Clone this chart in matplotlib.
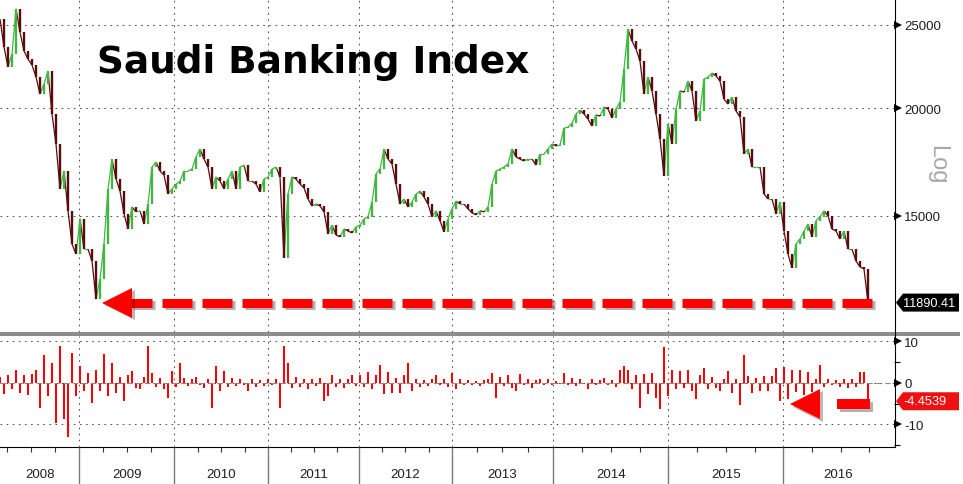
import numpy as np
import matplotlib
matplotlib.use("Agg")
import matplotlib.pyplot as plt
import matplotlib.patheffects as pe
from matplotlib.patches import Polygon
from matplotlib.lines import Line2D
from matplotlib.collections import LineCollection
from matplotlib.ticker import FixedLocator, NullLocator
from matplotlib.transforms import IdentityTransform, blended_transform_factory, offset_copy

# -------------------------------------------------
# 1) Data (one value every few sessions)
# -------------------------------------------------
closes = [
    25400, 23570, 22340, 23130, 26100, 24530, 23320, 22820, 22460, 21750,
    20780, 21340, 22100, 19700, 18180, 16120, 16910, 15200, 13910, 13540,
    14880, 13720, 13720, 13290, 12000, 12660, 13910, 16120, 17460, 16550,
    16030, 15080, 14480, 15360, 15160, 15200, 14670, 15480, 17090, 17320,
    16910, 16730, 15900, 16120, 16330, 16460, 16910, 16910, 17000, 17560,
    17940, 17460, 17090, 16120, 16640, 16460, 16120, 16550, 16910, 16120,
    17090, 17180, 16460, 16460, 16330, 15990, 16550, 16640, 17000, 17090,
    16640, 13400, 15900, 16640, 16550, 16330, 16160, 15690, 15400, 15480,
    15400, 15160, 14290, 14630, 14250, 14180, 14480, 14400, 14330, 14560,
    14630, 14880, 14960, 15560, 16780, 17000, 17940, 17460, 17230, 16330,
    15480, 15690, 15360, 15560, 15900, 16030, 15770, 15480, 14960, 15200,
    14800, 14370, 14880, 15280, 15600, 15480, 15480, 15280, 15120, 15040,
    15200, 15160, 15360, 16330, 16910, 17000, 17090, 17230, 17940, 17560,
    17460, 17370, 17460, 17460, 17180, 17700, 17700, 17940, 18180, 18080,
    18130, 18970, 19020, 19220, 19700, 19910, 19700, 19430, 19070, 19650,
    19590, 20070, 19960, 19490, 19960, 20340, 22220, 24700, 23950, 23440,
    22700, 20780, 21750, 20950, 19700, 18420, 16700, 19170, 18180, 19960,
    20950, 20890, 21510, 20950, 19330, 19860, 21630, 21750, 21980, 21810,
    21510, 20500, 20230, 20610, 19860, 19540, 17700, 17940, 17090, 17090,
    17090, 15900, 15690, 15690, 15080, 15560, 14400, 13540, 13050, 13910,
    14100, 14400, 14670, 14180, 14800, 14960, 15200, 15000, 14480, 14400,
    14100, 14400, 13720, 13720, 13290, 13080, 13010, 11890.41,
]

pct_chg = [
    1.5, -2.8, 2.0, -1.5, 3.2, -2.4, 1.8, -3.0, 2.2, 3.0,
    -6.0, 6.8, -3.2, 4.8, -9.6, 9.0, -8.8, -13.2, 7.2, -3.2,
    4.0, -2.0, 2.4, -4.8, 3.2, -2.0, 7.0, -3.2, 4.8, -2.4,
    1.5, -4.4, 1.8, 2.8, -1.2, -1.6, 1.4, 8.8, 2.4, -1.0,
    1.2, -1.5, -3.6, 2.8, -1.0, 4.8, 1.2, -0.8, 1.0, 1.5,
    -0.6, -1.2, 0.8, -6.0, 4.0, -2.0, 2.8, -1.0, 1.2, -0.8,
    1.0, -0.5, -2.0, 0.8, -1.0, 0.6, -0.8, 0.9, -0.6, 1.0,
    -6.2, 8.8, 4.8, -1.2, 1.5, -1.0, 0.8, -1.5, 1.0, -0.8,
    1.2, -4.4, -3.2, 2.0, -1.0, 0.8, -1.2, 1.0, 2.0, -0.8,
    2.0, -1.0, 2.6, -1.5, 1.8, 4.4, -2.6, 2.6, -2.4, 1.2,
    -2.4, 2.0, 4.8, -2.0, 0.8, -1.0, 0.6, -0.8, 1.0, 2.0,
    -0.6, 0.8, -1.0, 2.4, -1.6, 0.8, -0.5, 0.7, -0.6, 0.5,
    -0.8, 0.6, 1.0, 2.4, -3.6, 1.4, -0.8, 1.8, -1.2, -2.0,
    2.2, -0.6, 0.8, -1.2, 0.6, 1.0, -0.5, 0.8, -0.6, 0.5,
    -0.4, 2.4, -0.6, 1.2, -0.8, 1.0, -0.4, -1.6, 0.8, -0.6,
    0.7, 1.2, -0.5, 0.6, -1.0, 3.0, 4.0, 3.2, -1.6, 1.8,
    -6.0, 2.2, -2.8, 2.4, -3.6, -6.4, 8.6, -3.2, 3.2, -1.5,
    2.8, -1.2, 3.2, -2.0, -3.8, 2.0, 3.6, -1.5, 1.5, -1.2,
    -2.0, 1.0, 2.8, -2.4, 1.0, -5.4, 6.6, 1.6, -2.4, 1.2,
    -2.0, 1.6, -2.0, 1.6, 3.6, -4.4, 3.8, -4.0, 3.0, -2.2,
    3.0, -3.0, 2.6, -2.3, 1.0, 4.2, -1.0, 0.8, -0.6, 0.7,
    -1.0, 0.9, -1.2, 0.8, -1.0, 2.6, 2.7, -4.4539,
]

year_labels = ["2008", "2009", "2010", "2011", "2012", "2013", "2014", "2015", "2016"]
# position (in bar slots) where each year starts, last one = start of 2017
year_start_idx = [-4.2, 19.8, 43.6, 67.1, 89.8, 112.9, 138.3, 167.1, 195.8, 224.5]

price_ticks = [15000, 20000, 25000]
chg_ticks = [10, 0, -10]

# -------------------------------------------------
# 2) Figure layout (pixel based)
# -------------------------------------------------
plt.rcParams["font.family"] = ["Liberation Sans", "DejaVu Sans"]
plt.rcParams["lines.scale_dashes"] = False

W, H = 963, 485
fig = plt.figure(figsize=(W / 100, H / 100), dpi=100)
fig.patch.set_facecolor("white")


def px_box(left, top, right, bottom):
    return [left / W, 1 - bottom / H, (right - left) / W, (bottom - top) / H]


ax = fig.add_axes(px_box(0, 0, 894, 333))
axb = fig.add_axes(px_box(0, 337, 894, 448))
axd = fig.add_axes(px_box(0, 448, 894, 485))

XMAX = 223.5
GREEN = "#44b543"
DARK = "#580c0c"
RED = "#ff0000"
GRID_LS = (0, (1.2, 3.2))

idx = np.arange(len(closes))
c = np.array(closes, dtype=float)
o = np.r_[c[0], c[:-1]]
up = c >= o
bounds_in = [b for b in year_start_idx if 0 < b < XMAX]

# -------------------------------------------------
# 3) Price panel (log)
# -------------------------------------------------
ax.set_yscale("log")
ax.set_xlim(0, XMAX)
ax.set_ylim(10990, 26800)

# thin links between consecutive closes, then the up/down bodies on top
segs = [[(i - 1, o[i]), (i, c[i])] for i in idx[1:]]
seg_cols = [GREEN if up[i] else DARK for i in idx[1:]]
ax.add_collection(LineCollection(segs, colors=seg_cols, lw=0.9, zorder=2))
ax.vlines(idx[up], o[up], c[up], color=GREEN, lw=1.7, zorder=3)
ax.vlines(idx[~up], o[~up], c[~up], color=DARK, lw=1.7, zorder=3)

ax.set_yticks(price_ticks)
ax.set_yticklabels([str(t) for t in price_ticks])
ax.yaxis.set_minor_locator(NullLocator())
ax.set_xticks(bounds_in)
ax.tick_params(axis="x", length=0, labelbottom=False)
ax.tick_params(axis="y", which="both", left=False, right=False, labelleft=False,
               labelright=True, length=0, pad=7.2, labelsize=9.5, labelcolor="#1e1e1e")
ax.grid(True, color="#555555", ls=GRID_LS, lw=0.75)
ax.set_axisbelow(True)
for s in ax.spines.values():
    s.set_visible(False)

tri = offset_copy(blended_transform_factory(ax.transAxes, ax.transData), fig=fig, x=4, units="dots")
ax.plot([1] * len(price_ticks), price_ticks, ls="none", marker=">", ms=5.5, mew=0,
        color="k", transform=tri, clip_on=False)

# dashed arrow from the latest close back to the 2009 low
y_arrow = closes[-1]
tip = int(np.argmin(c[:60])) + 1.5
ax.plot([len(c), tip + 7], [y_arrow, y_arrow], color=RED, lw=6.5, ls=(0, (21.6, 7.2)),
        path_effects=[pe.SimpleLineShadow(offset=(2, -2), alpha=0.3), pe.Normal()], zorder=4)
ax.plot([tip + 3.75], [y_arrow], marker="<", ms=21.6, mew=0, color=RED,
        path_effects=[pe.SimplePatchShadow(offset=(2, -2), alpha=0.3), pe.Normal()], zorder=4)

# -------------------------------------------------
# 4) Change panel
# -------------------------------------------------
axb.set_xlim(0, XMAX)
axb.set_ylim(-15.5, 11.3)
axb.bar(idx, pct_chg, width=0.72, color=RED, lw=0, zorder=2)
axb.axhline(0, color="#8a8a8a", lw=0.8, ls=(0, (4, 2.5)), zorder=3)

axb.set_yticks(chg_ticks)
axb.set_yticklabels([str(t) for t in chg_ticks])
axb.yaxis.set_minor_locator(FixedLocator([-15, -5, 5]))
axb.set_xticks(bounds_in)
axb.tick_params(axis="x", length=0, labelbottom=False)
axb.tick_params(axis="y", which="major", left=False, right=False, labelleft=False,
                labelright=True, length=0, pad=7.2, labelsize=9.5, labelcolor="#1e1e1e")
axb.tick_params(axis="y", which="minor", left=False, right=True, length=4, width=0.8,
                color="k", direction="out")
axb.grid(True, which="major", color="#555555", ls=GRID_LS, lw=0.75)
axb.set_axisbelow(True)
for name, s in axb.spines.items():
    s.set_visible(name == "bottom")
axb.spines["bottom"].set_color("k")
axb.spines["bottom"].set_linewidth(0.8)

trib = offset_copy(blended_transform_factory(axb.transAxes, axb.transData), fig=fig, x=4, units="dots")
axb.plot([1] * len(chg_ticks), chg_ticks, ls="none", marker=">", ms=5.5, mew=0,
         color="k", transform=trib, clip_on=False)

last = len(pct_chg) - 1
yb = pct_chg[-1] - 0.65
axb.plot([last + 0.5, last - 7.75], [yb, yb], color=RED, lw=7.2, solid_capstyle="butt",
         path_effects=[pe.SimpleLineShadow(offset=(2, -2), alpha=0.3), pe.Normal()], zorder=4)
axb.plot([last - 19.5 + 3.8], [yb], marker="<", ms=22, mew=0, color=RED,
         path_effects=[pe.SimplePatchShadow(offset=(2, -2), alpha=0.3), pe.Normal()], zorder=4)

# -------------------------------------------------
# 5) Date strip
# -------------------------------------------------
axd.set_xlim(0, XMAX)
axd.set_ylim(0, 1)
axd.axis("off")
axd.vlines(bounds_in, 0, 1, color="#7a7a7a", lw=1.0)
quarters = []
for k, lab in enumerate(year_labels):
    a, b = year_start_idx[k], year_start_idx[k + 1]
    quarters += [a + (b - a) * q / 4 for q in (1, 2, 3)]
    axd.text((max(a, 0) + min(b, XMAX)) / 2, 0.28, lab, ha="center", va="center",
             fontsize=9.5, color="#1e1e1e")
axd.vlines([q for q in quarters if 0 < q < XMAX], 0.87, 1, color="#333333", lw=0.8)

# -------------------------------------------------
# 6) Frame pieces, last-value tags, labels
# -------------------------------------------------
fig.add_artist(Line2D([0, 958], [H - 335, H - 335], transform=IdentityTransform(),
                      color="#8c8c8c", lw=2.9))
fig.add_artist(Line2D([894.5, 894.5], [H - 448, H], transform=IdentityTransform(),
                      color="k", lw=0.8))


def tag(axis, value, text, color):
    yd = axis.transData.transform((0, value))[1]
    poly = Polygon([(896, yd), (903, yd + 9), (959, yd + 9), (959, yd - 9), (903, yd - 9)],
                   closed=True, transform=IdentityTransform(), fc=color, ec="none")
    fig.add_artist(poly)
    fig.text(903.5, yd, text, transform=IdentityTransform(), ha="left", va="center",
             color="white", fontsize=9.2)


tag(ax, closes[-1], f"{closes[-1]:.2f}", "black")
tag(axb, pct_chg[-1], f"{pct_chg[-1]:.4f}", "#ee1111")

fig.text(937.5 / W, 1 - 165 / H, "Log", rotation=270, ha="center", va="center",
         fontsize=17, color="#a8a8a8")
fig.text(97 / W, 1 - 73 / H, "Saudi Banking Index", family="DejaVu Sans",
         fontweight="bold", fontsize=26.9, va="baseline", ha="left", color="black")

fig.savefig("out.png", dpi=100, facecolor="white")
